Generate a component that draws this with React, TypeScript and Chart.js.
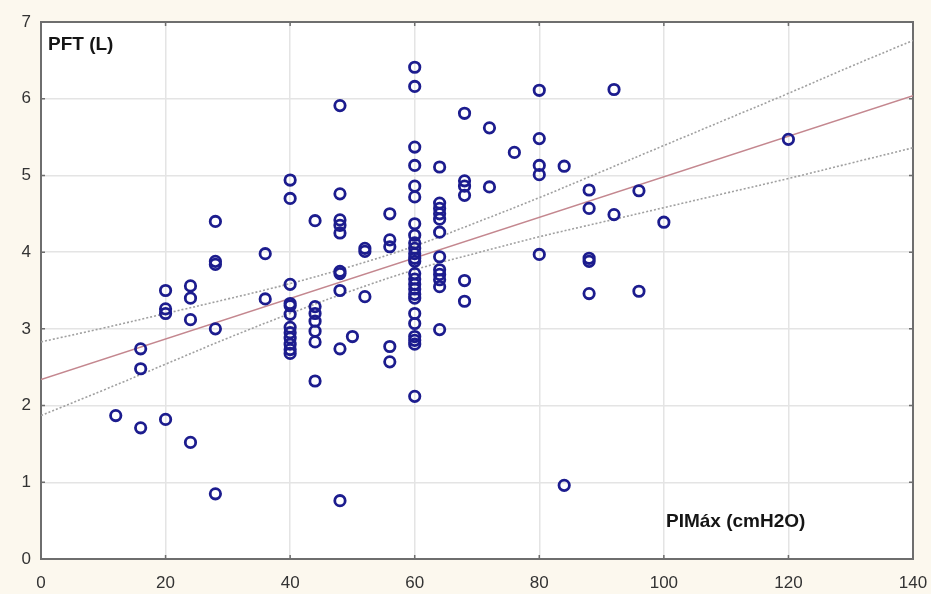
import React, { useEffect, useRef } from "react";
import { Chart, registerables } from "chart.js";

Chart.register(...registerables);

// PIMáx (cmH2O) values of each observation
const pimax: number[] = [
  12,
  16, 16, 16,
  20, 20, 20, 20,
  24, 24, 24, 24,
  28, 28, 28, 28, 28,
  36, 36,
  40, 40, 40, 40, 40, 40, 40, 40, 40, 40, 40, 40,
  44, 44, 44, 44, 44, 44, 44,
  48, 48, 48, 48, 48, 48, 48, 48, 48, 48,
  50,
  52, 52, 52,
  56, 56, 56, 56, 56,
  60, 60, 60, 60, 60, 60, 60, 60, 60, 60, 60, 60, 60, 60, 60, 60, 60, 60, 60, 60, 60, 60, 60, 60, 60,
  64, 64, 64, 64, 64, 64, 64, 64, 64, 64, 64, 64,
  68, 68, 68, 68, 68, 68,
  72, 72,
  76,
  80, 80, 80, 80, 80,
  84, 84,
  88, 88, 88, 88, 88,
  92, 92,
  96, 96,
  100,
  120,
];

// PFT (L) values, same order as pimax
const pft: number[] = [
  1.87,
  2.74, 2.48, 1.71,
  3.5, 3.26, 3.2, 1.82,
  3.56, 3.4, 3.12, 1.52,
  4.4, 3.88, 3.84, 3.0, 0.85,
  3.98, 3.39,
  4.94, 4.7, 3.58, 3.33, 3.3, 3.19, 3.02, 2.95, 2.88, 2.8, 2.73, 2.68,
  4.41, 3.29, 3.2, 3.1, 2.97, 2.83, 2.32,
  5.91, 4.76, 4.42, 4.35, 4.25, 3.75, 3.72, 3.5, 2.74, 0.76,
  2.9,
  4.05, 4.01, 3.42,
  4.5, 4.16, 4.07, 2.77, 2.57,
  6.41, 6.16, 5.37, 5.13, 4.86, 4.72, 4.37, 4.22, 4.12, 4.05, 3.98, 3.92, 3.88, 3.72, 3.65, 3.58, 3.52, 3.45, 3.4, 3.2, 3.07, 2.9, 2.85, 2.8, 2.12,
  5.11, 4.64, 4.57, 4.5, 4.43, 4.26, 3.94, 3.77, 3.71, 3.64, 3.55, 2.99,
  5.81, 4.93, 4.86, 4.74, 3.63, 3.36,
  5.62, 4.85,
  5.3,
  6.11, 5.48, 5.13, 5.01, 3.97,
  5.12, 0.96,
  4.81, 4.57, 3.92, 3.88, 3.46,
  6.12, 4.49,
  4.8, 3.49,
  4.39,
  5.47,
];

// Regression line (read at ends of the axis)
const fitX: number[] = [0, 140];
const fitY: number[] = [2.34, 6.04];

// Confidence band
const bandX: number[] = [0, 10, 20, 30, 40, 50, 60, 70, 80, 90, 100, 110, 120, 130, 140];
const bandUpper: number[] = [2.83, 3.01, 3.2, 3.39, 3.59, 3.82, 4.08, 4.39, 4.71, 5.05, 5.39, 5.73, 6.07, 6.42, 6.76];
const bandLower: number[] = [1.87, 2.2, 2.54, 2.88, 3.2, 3.5, 3.77, 3.99, 4.2, 4.39, 4.58, 4.77, 4.96, 5.16, 5.36];

const xTicks: number[] = [0, 20, 40, 60, 80, 100, 120, 140];
const yTicks: number[] = [0, 1, 2, 3, 4, 5, 6, 7];

const yLabel = "PFT (L)";
const xLabel = "PIMáx (cmH2O)";

export default function App() {
  const ref = useRef<HTMLCanvasElement | null>(null);

  useEffect(() => {
    const canvas = ref.current;
    if (!canvas) return;

    const decor = {
      id: "decor",
      beforeDraw(chart: any) {
        const { ctx, chartArea: a } = chart;
        ctx.save();
        ctx.fillStyle = "#fcf8ee";
        ctx.fillRect(0, 0, chart.width, chart.height);
        ctx.fillStyle = "#ffffff";
        ctx.fillRect(a.left, a.top, a.right - a.left, a.bottom - a.top);
        ctx.restore();
      },
      beforeDatasetsDraw(chart: any) {
        const { ctx, chartArea: a, scales } = chart;
        ctx.save();
        ctx.strokeStyle = "#6e6e6e";
        ctx.lineWidth = 2;
        ctx.strokeRect(a.left, a.top, a.right - a.left, a.bottom - a.top);
        ctx.lineWidth = 1.5;
        const t = 4;
        ctx.beginPath();
        xTicks.forEach((v) => {
          const px = scales.x.getPixelForValue(v);
          ctx.moveTo(px, a.top);
          ctx.lineTo(px, a.top + t);
          ctx.moveTo(px, a.bottom);
          ctx.lineTo(px, a.bottom - t);
        });
        yTicks.forEach((v) => {
          const py = scales.y.getPixelForValue(v);
          ctx.moveTo(a.left, py);
          ctx.lineTo(a.left + t, py);
          ctx.moveTo(a.right, py);
          ctx.lineTo(a.right - t, py);
        });
        ctx.stroke();
        ctx.restore();
      },
      afterDraw(chart: any) {
        const { ctx } = chart;
        ctx.save();
        ctx.fillStyle = "#151515";
        ctx.font = "bold 19px 'Liberation Sans', Arial, sans-serif";
        ctx.textBaseline = "middle";
        ctx.textAlign = "left";
        ctx.fillText(yLabel, 48, 45);
        ctx.fillText(xLabel, 666, 522);
        ctx.restore();
      },
    };

    const points = pimax.map((x, i) => ({ x, y: pft[i] }));
    const fit = fitX.map((x, i) => ({ x, y: fitY[i] }));
    const up = bandX.map((x, i) => ({ x, y: bandUpper[i] }));
    const lo = bandX.map((x, i) => ({ x, y: bandLower[i] }));

    const chart = new Chart(canvas, {
      type: "scatter",
      data: {
        datasets: [
          {
            data: points,
            order: 0,
            pointRadius: 5.2,
            pointBorderWidth: 2.8,
            borderColor: "#1c1c8e",
            backgroundColor: "rgba(255,255,255,0)",
            pointHoverRadius: 5,
          },
          {
            data: fit,
            order: 1,
            showLine: true,
            borderColor: "#c4878f",
            borderWidth: 1.4,
            pointRadius: 0,
          },
          {
            data: up,
            order: 2,
            showLine: true,
            borderColor: "#a0a0a0",
            borderWidth: 1.6,
            borderDash: [2, 2],
            tension: 0.4,
            pointRadius: 0,
          },
          {
            data: lo,
            order: 3,
            showLine: true,
            borderColor: "#a0a0a0",
            borderWidth: 1.6,
            borderDash: [2, 2],
            tension: 0.4,
            pointRadius: 0,
          },
        ],
      },
      options: {
        animation: false,
        responsive: false,
        events: [],
        layout: { padding: { top: 22, right: 18, left: 0, bottom: 0 } },
        plugins: {
          legend: { display: false },
          tooltip: { enabled: false },
        },
        scales: {
          x: {
            type: "linear",
            min: 0,
            max: 140,
            afterFit: (s: any) => {
              s.height = 35;
              s.paddingLeft = 0;
              s.paddingRight = 0;
            },
            afterBuildTicks: (s: any) => {
              s.ticks = xTicks.map((v) => ({ value: v }));
            },
            ticks: {
              padding: 14,
              color: "#333333",
              font: { size: 17, family: "'Liberation Sans', Arial, sans-serif" },
            },
            grid: { color: "#e4e4e4", lineWidth: 1.5, drawTicks: false },
            border: { display: false },
          },
          y: {
            type: "linear",
            min: 0,
            max: 7,
            afterFit: (s: any) => {
              s.width = 41;
              s.paddingTop = 0;
              s.paddingBottom = 0;
            },
            afterBuildTicks: (s: any) => {
              s.ticks = yTicks.map((v) => ({ value: v }));
            },
            ticks: {
              padding: 10,
              color: "#333333",
              font: { size: 17, family: "'Liberation Sans', Arial, sans-serif" },
            },
            grid: { color: "#e4e4e4", lineWidth: 1.5, drawTicks: false },
            border: { display: false },
          },
        },
      },
      plugins: [decor],
    });

    return () => chart.destroy();
  }, []);

  return (
    <canvas
      ref={ref}
      width={931}
      height={594}
      style={{ position: "fixed", left: 0, top: 0, width: 931, height: 594 }}
    />
  );
}
